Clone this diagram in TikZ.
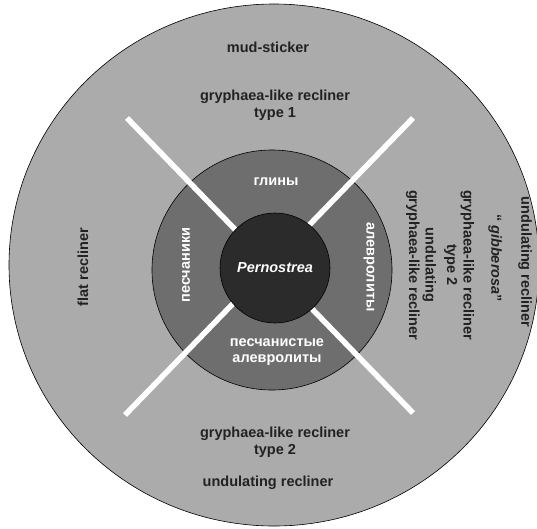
\documentclass[tikz,border=0pt]{standalone}
\usepackage{fontspec}
\setmainfont{Liberation Sans}
\usetikzlibrary{positioning}
\definecolor{outerzone}{RGB}{171,171,171}
\definecolor{midzone}{RGB}{110,110,110}
\definecolor{corezone}{RGB}{43,43,43}
\definecolor{inktext}{RGB}{34,34,34}

\begin{document}
\begin{tikzpicture}[x=1pt, y=-1pt, font=\fontsize{14.5}{16.5}\selectfont\bfseries]
        \tikzset{darktext/.style={text=inktext, align=center, inner sep=0pt}, lighttext/.style={text=white, align=center, inner sep=0pt}, divider/.style={draw=white, line width=5.5pt}}
        \useasboundingbox (0,0) rectangle (537,528);
        \clip (0,0) rectangle (537,528);
        % zones
        \draw[fill=outerzone, line width=0.6pt] (274,265) ellipse [x radius=265pt, y radius=261pt];
        \draw[fill=midzone, line width=0.6pt] (272,270) circle [radius=120pt];
        \coordinate (tl) at (127,118);
        \coordinate (tr) at (413,118);
        \coordinate (bl) at (125,415);
        \coordinate (br) at (413,413);
        \draw[divider] (tl) -- (br);
        \draw[divider] (tr) -- (bl);
        \node[circle, draw, line width=0.6pt, fill=corezone, minimum size=110pt, text=white] (core) at (275,268) {\textit{Pernostrea}};
        % inner ring
        \node[lighttext] (clay) at (276,182) {глины};
        \node[lighttext] (siltsand) at (277,352) {песчанистые\\алевролиты};
        \node[lighttext, rotate=90] (sand) at (186,265) {песчаники};
        \node[lighttext, rotate=-90] (silt) at (369,267) {алевролиты};
        % outer ring
        \node[darktext] (mud) at (268,47) {mud-sticker};
        \node[darktext] (gryphA) at (275,105) {gryphaea-like recliner\\type 1};
        \node[darktext] (gryphB) at (275,442) {gryphaea-like recliner\\type 2};
        \node[darktext] (undul) at (268,483) {undulating recliner};
        \node[darktext, rotate=90] (flat) at (83,267) {flat recliner};
        \node[darktext, rotate=-90] (undulR) at (525,262) {undulating recliner};
        \node[darktext, rotate=-90] (gibb) at (495,258) {“ \textit{gibberosa}”};
        \node[darktext, rotate=-90] (gryphR) at (459,265) {gryphaea-like recliner\\type 2};
        \node[darktext, rotate=-90] (undulG) at (421,265) {undulating\\gryphaea-like recliner};
    \end{tikzpicture}
\end{document}
